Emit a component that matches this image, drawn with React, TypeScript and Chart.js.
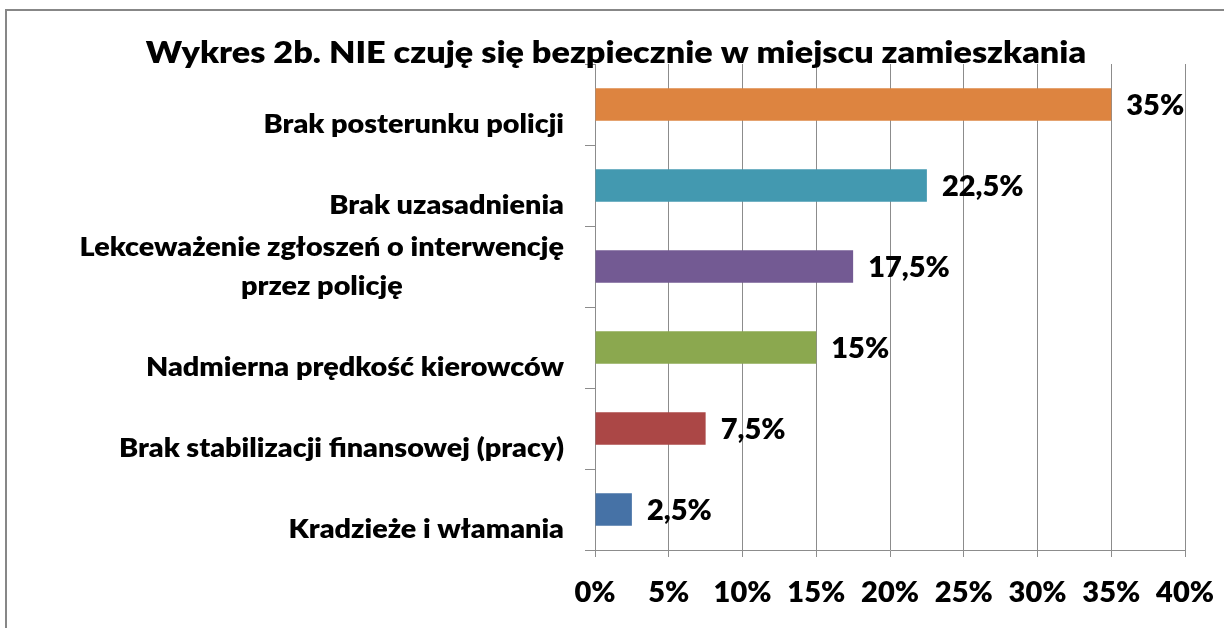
import React, { useEffect, useRef } from "react";
import { Chart, registerables } from "chart.js";

Chart.register(...registerables);

const TITLE = "Wykres 2b. NIE czuję się bezpiecznie w miejscu zamieszkania";
const categories: string[][] = [
  ["Brak posterunku policji"],
  ["Brak uzasadnienia"],
  ["Lekceważenie zgłoszeń o interwencję", "przez policję"],
  ["Nadmierna prędkość kierowców"],
  ["Brak stabilizacji finansowej (pracy)"],
  ["Kradzieże i włamania"],
];
const values = [35, 22.5, 17.5, 15, 7.5, 2.5];
const barColors = ["#DD8440", "#4399B0", "#735A93", "#8BA84F", "#AB4746", "#4672A6"];
const X_MIN = 0;
const X_MAX = 40;
const X_STEP = 5;

const FONT_FAMILY = "Lato";
const WEIGHT = "800";
const TITLE_SIZE = 30;
const TITLE_SX = 1.14;
const CAT_SIZE = 27;
const CAT_SX = 1.065;
const VAL_SIZE = 29;
const VAL_SX = 1.0;
const GRID = "#8c8c8c";

const fmtPct = (v: number) => String(v).replace(".", ",") + "%";

function drawText(
  ctx: CanvasRenderingContext2D,
  t: string,
  x: number,
  y: number,
  align: CanvasTextAlign,
  sx: number
) {
  ctx.save();
  ctx.translate(x, y);
  ctx.scale(sx, 1);
  ctx.textAlign = align;
  ctx.textBaseline = "alphabetic";
  ctx.fillText(t, 0, 0);
  ctx.restore();
}

const textPlugin = {
  id: "customTexts",
  afterDraw(chart: any) {
    const ctx: CanvasRenderingContext2D = chart.ctx;
    const x = chart.scales.x;
    const y = chart.scales.y;
    ctx.save();
    // frame
    ctx.strokeStyle = "#878787";
    ctx.lineWidth = 2;
    ctx.beginPath();
    ctx.moveTo(6, chart.height);
    ctx.lineTo(6, 10);
    ctx.lineTo(chart.width, 10);
    ctx.stroke();

    ctx.fillStyle = "#000";
    // title
    ctx.font = `${WEIGHT} ${TITLE_SIZE}px ${FONT_FAMILY}`;
    drawText(ctx, TITLE, 616, 63, "center", TITLE_SX);

    // category labels
    ctx.font = `${WEIGHT} ${CAT_SIZE}px ${FONT_FAMILY}`;
    const rightEdge = chart.chartArea.left - 31;
    categories.forEach((lines, i) => {
      const yc = y.getPixelForValue(i);
      const widths = lines.map((l) => ctx.measureText(l).width * CAT_SX);
      const bw = Math.max(...widths);
      const cx = rightEdge - bw / 2;
      const n = lines.length;
      lines.forEach((l, j) => {
        const base = yc + 28 - (n - 1 - j) * 39;
        drawText(ctx, l, cx, base, "center", CAT_SX);
      });
    });

    // value labels
    ctx.font = `${WEIGHT} ${VAL_SIZE}px ${FONT_FAMILY}`;
    values.forEach((v, i) => {
      const px = x.getPixelForValue(v);
      const yc = y.getPixelForValue(i);
      drawText(ctx, fmtPct(v), px + 15, yc + 10, "left", VAL_SX);
    });
    ctx.restore();
  },
};

export default function App() {
  const ref = useRef<HTMLCanvasElement | null>(null);
  useEffect(() => {
    if (!ref.current) return;
    const chart = new Chart(ref.current, {
      type: "bar",
      data: {
        labels: categories.map((c) => c.join(" ")),
        datasets: [
          {
            data: values,
            backgroundColor: barColors,
            borderWidth: 0,
            categoryPercentage: 1,
            barPercentage: 0.4,
          },
        ],
      },
      options: {
        indexAxis: "y",
        animation: false,
        responsive: false,
        maintainAspectRatio: false,
        layout: { padding: { left: 0, right: 39, top: 64, bottom: 0 } },
        plugins: {
          legend: { display: false },
          tooltip: { enabled: false },
          title: { display: false },
        },
        scales: {
          x: {
            min: X_MIN,
            max: X_MAX,
            ticks: {
              stepSize: X_STEP,
              color: "#000",
              font: { family: FONT_FAMILY, size: VAL_SIZE, weight: WEIGHT },
              padding: 18,
              callback: (v: any) => v + "%",
            },
            grid: { color: GRID, lineWidth: 1, tickLength: 7, drawOnChartArea: true },
            border: { display: true, color: GRID, width: 1 },
            afterFit: (s: any) => {
              s.height = 78;
              s.paddingLeft = 0;
              s.paddingRight = 0;
            },
          },
          y: {
            ticks: { display: false },
            grid: { color: GRID, lineWidth: 1, tickLength: 10, drawOnChartArea: false, offset: true },
            border: { display: true, color: GRID, width: 1 },
            afterFit: (s: any) => {
              s.width = 595;
              s.paddingTop = 0;
              s.paddingBottom = 0;
            },
          },
        },
      },
      plugins: [textPlugin],
    });
    return () => chart.destroy();
  }, []);
  return (
    <div style={{ position: "fixed", left: 0, top: 0, width: 1224, height: 628, background: "#fff" }}>
      <canvas ref={ref} width={1224} height={628} style={{ width: 1224, height: 628 }} />
    </div>
  );
}
